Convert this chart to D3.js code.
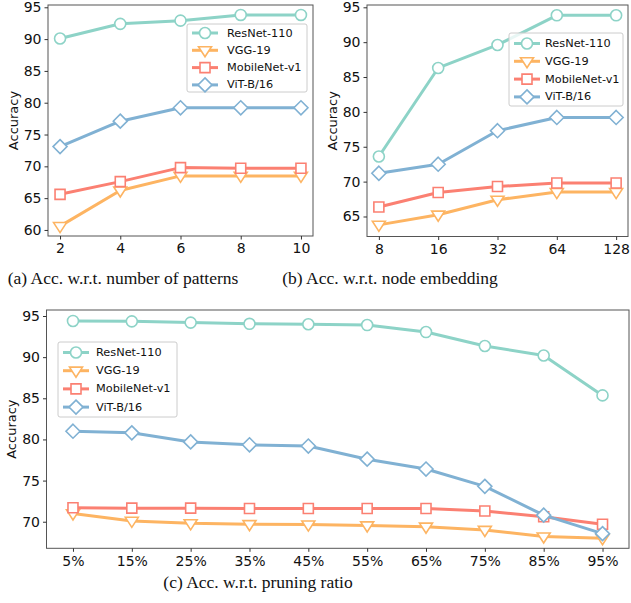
<!DOCTYPE html>
<html><head><meta charset="utf-8">
<script src="https://cdn.jsdelivr.net/npm/d3@7"></script>
<style>body{margin:0;background:#fff}svg{display:block}</style>
</head><body>
<svg id="c" width="631" height="603"></svg>
<script>
const seriesNames = ["ResNet-110","VGG-19","MobileNet-v1","ViT-B/16"];
const colors = ["#8dd3c7","#fdb462","#fb8072","#80b1d3"];
const markers = ["circle","triDown","square","diamond"];

// Panel (a): number of patterns
const aX = [2,4,6,8,10];
const aResNet = [90.1,92.4,92.9,93.8,93.8];
const aVGG = [60.6,66.2,68.5,68.5,68.5];
const aMobile = [65.6,67.6,69.8,69.7,69.7];
const aViT = [73.1,77.1,79.2,79.2,79.2];
const aYTicks = [60,65,70,75,80,85,90,95];

// Panel (b): node embedding
const bX = ["8","16","32","64","128"];
const bResNet = [73.6,86.3,89.6,93.85,93.85];
const bVGG = [63.8,65.25,67.4,68.5,68.5];
const bMobile = [66.35,68.45,69.3,69.8,69.8];
const bViT = [71.2,72.5,77.3,79.2,79.2];
const bYTicks = [65,70,75,80,85,90,95];

// Panel (c): pruning ratio
const cX = ["5%","15%","25%","35%","45%","55%","65%","75%","85%","95%"];
const cResNet = [94.4,94.35,94.2,94.05,94.0,93.9,93.05,91.35,90.2,85.35];
const cVGG = [71.0,70.1,69.8,69.7,69.65,69.55,69.4,69.0,68.2,68.0];
const cMobile = [71.7,71.65,71.65,71.6,71.6,71.6,71.6,71.3,70.6,69.7];
const cViT = [81.0,80.8,79.7,79.35,79.2,77.6,76.4,74.3,70.8,68.55];
const cYTicks = [70,75,80,85,90,95];

const svg = d3.select("#c");

function markerPath(type){
  if(type==="circle") return d3.symbol().type(d3.symbolCircle).size(95)();
  if(type==="square") return d3.symbol().type(d3.symbolSquare).size(100)();
  if(type==="diamond"){ const r=7; return `M0,${-r}L${r},0L0,${r}L${-r},0Z`; }
  if(type==="triDown"){ const r=6.5; return `M${-r},${-r*0.55}L${r},${-r*0.55}L0,${r*1.0}Z`; }
}

function panel(o){
  const g = svg.append("g");
  const x = o.xScale, y = o.yScale;
  const [x0,x1] = x.range(), [y1,y0] = y.range();
  o.series.forEach((vals,i)=>{
    const line = d3.line().x((d,j)=>o.xPos(j)).y(d=>y(d));
    g.append("path").attr("d",line(vals)).attr("fill","none")
      .attr("stroke",colors[i]).attr("stroke-width",3).attr("stroke-linejoin","round");
    g.selectAll(null).data(vals).enter().append("path")
      .attr("d",markerPath(markers[i]))
      .attr("transform",(d,j)=>`translate(${o.xPos(j)},${y(d)})`)
      .attr("fill","#fff").attr("stroke",colors[i]).attr("stroke-width",1.6);
  });
  g.append("rect").attr("x",x0).attr("y",y0).attr("width",x1-x0).attr("height",y1-y0)
    .attr("fill","none").attr("stroke","#555").attr("stroke-width",1);
  const ya = g.append("g").attr("transform",`translate(${x0},0)`)
    .call(d3.axisLeft(y).tickValues(o.yTicks).tickSize(3.5).tickPadding(3));
  const xa = g.append("g").attr("transform",`translate(0,${y1})`)
    .call(o.xAxis.tickSize(3.5).tickPadding(4));
  [ya,xa].forEach(a=>{
    a.select(".domain").remove();
    a.selectAll("line").attr("stroke","#333");
    a.selectAll("text").attr("font-family","DejaVu Sans").attr("font-size",14).attr("fill","#111");
  });
  g.append("text").attr("transform",`translate(${o.ylabX},${(y0+y1)/2}) rotate(-90)`)
    .attr("text-anchor","middle").attr("dominant-baseline","middle")
    .attr("font-family","DejaVu Sans").attr("font-size",13).attr("fill","#111").text("Accuracy");
  const L = o.legend;
  const lg = g.append("g").attr("transform",`translate(${L.x},${L.y})`);
  lg.append("rect").attr("width",L.w).attr("height",L.h).attr("rx",2)
    .attr("fill","#fff").attr("fill-opacity",0.8).attr("stroke","#ccc").attr("stroke-width",1);
  seriesNames.forEach((n,i)=>{
    const yy = L.first + i*L.step;
    lg.append("line").attr("x1",5).attr("x2",31).attr("y1",yy).attr("y2",yy)
      .attr("stroke",colors[i]).attr("stroke-width",3);
    lg.append("path").attr("d",markerPath(markers[i])).attr("transform",`translate(18,${yy})`)
      .attr("fill","#fff").attr("stroke",colors[i]).attr("stroke-width",1.6);
    lg.append("text").attr("x",L.tx).attr("y",yy).attr("dominant-baseline","central")
      .attr("font-family","DejaVu Sans").attr("font-size",11.3).attr("fill","#111").text(n);
  });
  svg.append("text").attr("x",o.cap.x).attr("y",o.cap.y).attr("text-anchor","middle")
    .attr("font-family","Liberation Serif").attr("font-size",17.5).attr("fill","#111").text(o.cap.t);
}

// (a)
{
  const x = d3.scaleLinear().domain([1.6,10.4]).range([48,313]);
  const y = d3.scaleLinear().domain([59.05,95.36]).range([236,5]);
  panel({xScale:x,yScale:y,xPos:j=>x(aX[j]),yTicks:aYTicks,
    xAxis:d3.axisBottom(x).tickValues(aX),
    series:[aResNet,aVGG,aMobile,aViT], ylabX:14,
    legend:{x:187,y:24,w:120,h:68,first:9,step:17.3,tx:40},
    cap:{x:123,y:284,t:"(a) Acc. w.r.t. number of patterns"}});
}
// (b)
{
  const xi = d3.scaleLinear().domain([-0.2,4.2]).range([367,628]);
  const y = d3.scaleLinear().domain([62.13,95.33]).range([236.5,5]);
  const xb = d3.scalePoint().domain(bX).range([xi(0),xi(4)]);
  panel({xScale:xi,yScale:y,xPos:j=>xi(j),yTicks:bYTicks,
    xAxis:d3.axisBottom(xb),
    series:[bResNet,bVGG,bMobile,bViT], ylabX:333,
    legend:{x:509,y:33,w:114,h:73,first:10.5,step:17.8,tx:36},
    cap:{x:390,y:284,t:"(b) Acc. w.r.t. node embedding"}});
}
// (c)
{
  const xi = d3.scaleLinear().domain([-0.45,9.45]).range([46.5,629]);
  const y = d3.scaleLinear().domain([66.77,95.73]).range([548.3,310]);
  const xb = d3.scalePoint().domain(cX).range([xi(0),xi(9)]);
  panel({xScale:xi,yScale:y,xPos:j=>xi(j),yTicks:cYTicks,
    xAxis:d3.axisBottom(xb),
    series:[cResNet,cVGG,cMobile,cViT], ylabX:12,
    legend:{x:58,y:342,w:119,h:75,first:10.5,step:18.2,tx:38},
    cap:{x:258,y:588,t:"(c) Acc. w.r.t. pruning ratio"}});
}
</script>
</body></html>
